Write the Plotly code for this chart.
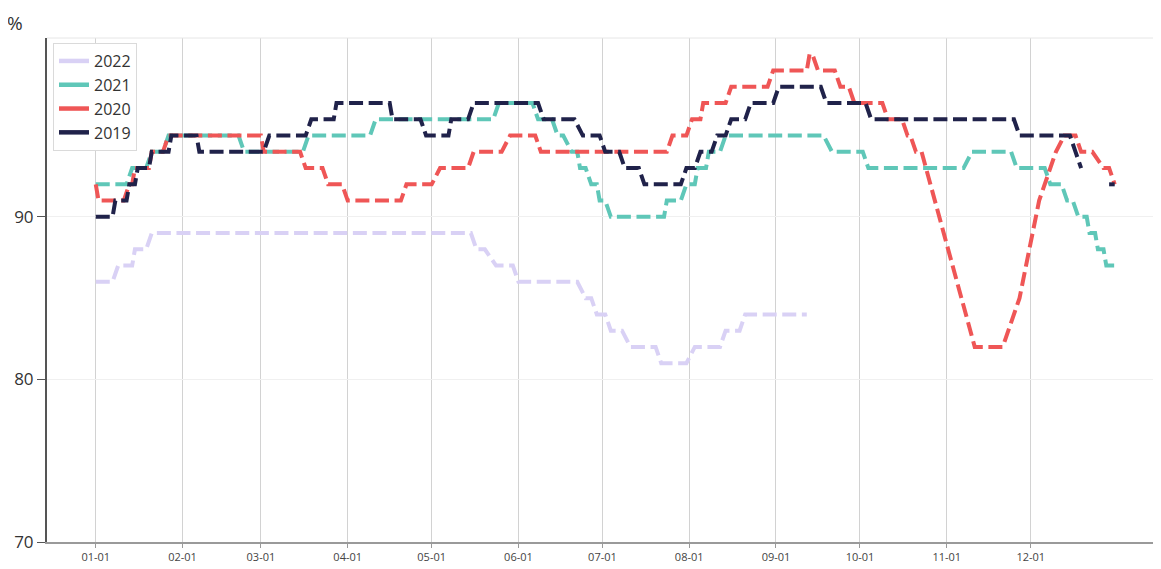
import plotly.graph_objects as go
import pandas as pd

# ---------------- data (MM-DD vertices; None = gap) -------------
YEAR = "2021"  # common dummy year so all series share the same month-day axis

dates_2022 = ["01-01", "01-07", "01-09", "01-14", "01-15", "01-19", "01-21", "05-15",
              "05-17", "05-20", "05-24", "05-30", "06-01", "06-22", "06-25", "06-27",
              "06-29", "07-02", "07-04", "07-08", "07-11", "07-20", "07-22", "07-31",
              "08-03", "08-12", "08-14", "08-19", "08-21", "09-12"]
vals_2022 = [86, 86, 87, 87, 88, 88, 89, 89,
             88, 88, 87, 87, 86, 86, 85, 85,
             84, 84, 83, 83, 82, 82, 81, 81,
             82, 82, 83, 83, 84, 84]

dates_2021 = ["01-01", "01-12", "01-14", "01-19", "01-21", "01-25", "01-27", "02-21",
              "02-23", "03-16", "03-18", "04-09", "04-11", "05-23", "05-25", "06-06",
              "06-08", "06-13", "06-15", "06-17", "06-20", "06-22", "06-23", "06-25",
              "06-27", "06-29", "06-30", "07-02", "07-04", "07-23", "07-24", "07-29",
              "07-31", "08-03", "08-04", "08-07", "08-08", "08-12", "08-14", "09-18",
              "09-21", "10-02", "10-04", "11-07", "11-10", "11-24", "11-26", "12-06",
              "12-08", "12-12", "12-14", "12-16", "12-18", "12-21", "12-22", "12-24",
              "12-25", "12-27", "12-28", "12-31"]
vals_2021 = [92, 92, 93, 93, 94, 94, 95, 95,
             94, 94, 95, 95, 96, 96, 97, 97,
             96, 96, 95, 95, 94, 94, 93, 93,
             92, 92, 91, 91, 90, 90, 91, 91,
             92, 92, 93, 93, 94, 94, 95, 95,
             94, 94, 93, 93, 94, 94, 93, 93,
             92, 92, 91, 91, 90, 90, 89, 89,
             88, 88, 87, 87]

dates_2020 = ["01-01", "01-02", "01-11", "01-13", "01-14", "01-15", "01-20", "01-21",
              "01-25", "01-27", "03-01", "03-02", "03-15", "03-17", "03-23", "03-25",
              "03-30", "04-01", "04-20", "04-22", "05-01", "05-04", "05-14", "05-16",
              "05-26", "05-29", "06-07", "06-09", "07-24", "07-26", "07-31", "08-02",
              "08-05", "08-06", "08-14", "08-16", "08-29", "08-31", "09-12", "09-13",
              "09-14", "09-16", "09-22", "09-24", "09-27", "09-29", "10-09", "10-11",
              "10-16", "10-18", "10-19", "10-21", "10-23", "11-11", "11-21", "11-27",
              "12-04", "12-10", "12-13", "12-17", "12-19", "12-23", "12-27", "12-29",
              "12-31"]
vals_2020 = [92, 91, 91, 92, 92, 93, 93, 94,
             94, 95, 95, 94, 94, 93, 93, 92,
             92, 91, 91, 92, 92, 93, 93, 94,
             94, 95, 95, 94, 94, 95, 95, 96,
             96, 97, 97, 98, 98, 99, 99, 100,
             100, 99, 99, 98, 98, 97, 97, 96,
             96, 95, 95, 94, 94, 82, 82, 85,
             91, 94, 95, 95, 94, 94, 93, 93,
             92]

dates_2019 = ["01-01", "01-07", "01-08", "01-12", "01-13", "01-15", "01-16", "01-20",
              "01-21", "01-27", "01-28", "02-06", "02-07", "03-02", "03-04", "03-17",
              "03-19", "03-27", "03-28", "04-16", "04-17", "04-27", "04-29", "05-07",
              "05-08", "05-14", "05-16", "06-08", "06-10", "06-21", "06-24", "06-30",
              "07-02", "07-07", "07-09", "07-14", "07-16", "07-29", "07-31", "08-03",
              "08-05", "08-09", "08-11", "08-14", "08-16", "08-21", "08-23", "08-31",
              "09-02", "09-17", "09-19", "10-03", "10-05", "11-25", "11-27", "12-15",
              "12-17", "12-19", "12-24", "12-29", "12-31"]
vals_2019 = [90, 90, 91, 91, 92, 92, 93, 93,
             94, 94, 95, 95, 94, 94, 95, 95,
             96, 96, 97, 97, 96, 96, 95, 95,
             96, 96, 97, 97, 96, 96, 95, 95,
             94, 94, 93, 93, 92, 92, 93, 93,
             94, 94, 95, 95, 96, 96, 97, 97,
             98, 98, 97, 97, 96, 96, 95, 95,
             94, 93, None, 92, 92]

series_names = ["2022", "2021", "2020", "2019"]
series_dates = [dates_2022, dates_2021, dates_2020, dates_2019]
series_vals = [vals_2022, vals_2021, vals_2020, vals_2019]
series_colors = ["#d9d1f5", "#5fc7b8", "#ef5656", "#20224a"]

tick_labels = ["01-01", "02-01", "03-01", "04-01", "05-01", "06-01",
               "07-01", "08-01", "09-01", "10-01", "11-01", "12-01"]
y_ticks = [70, 80, 90]


def to_x(ds):
    return [pd.Timestamp(f"{YEAR}-{d}") for d in ds]


# ---------------- figure ----------------
fig = go.Figure()

DASH = "14px,5.6px"
for name, ds, vs, col in zip(series_names, series_dates, series_vals, series_colors):
    fig.add_trace(go.Scatter(
        x=to_x(ds), y=vs, mode="lines", name=name, showlegend=False,
        line=dict(color=col, width=4, dash=DASH),
        connectgaps=False, hoverinfo="skip",
    ))

# legend entries drawn with solid samples, like the reference legend
for name, col in zip(series_names, series_colors):
    fig.add_trace(go.Scatter(
        x=[None], y=[None], mode="lines", name=name,
        line=dict(color=col, width=4.5),
    ))

FONT = "'Open Sans', Lato, sans-serif"

fig.update_layout(
    width=1153, height=561,
    margin=dict(l=39, r=5, t=30, b=23),
    paper_bgcolor="white", plot_bgcolor="white",
    font=dict(family=FONT, color="#333"),
    showlegend=True,
    legend=dict(
        x=0.0054, y=0.99, xanchor="left", yanchor="top",
        bgcolor="white", bordercolor="#dadada", borderwidth=1,
        font=dict(size=16, color="#333", family=FONT),
        traceorder="normal", tracegroupgap=0,
        entrywidth=90, entrywidthmode="pixels",
    ),
    xaxis=dict(
        type="date",
        range=["2020-12-14 14:00", "2022-01-14 18:00"],
        tickmode="array",
        tickvals=to_x(tick_labels),
        ticktext=tick_labels,
        showgrid=True, gridcolor="#d2d2d2", gridwidth=1,
        showline=True, linecolor="#9a9a9a", linewidth=2,
        ticks="outside", ticklen=4, tickcolor="#9a9a9a",
        tickfont=dict(size=11, color="#444", family=FONT),
        zeroline=False,
    ),
    yaxis=dict(
        range=[70, 101],
        tickmode="array", tickvals=y_ticks,
        showgrid=True, gridcolor="#f0f0f0", gridwidth=1,
        showline=True, linecolor="#555", linewidth=2,
        ticks="outside", ticklen=8, tickcolor="#555",
        tickfont=dict(size=17, color="#333", family=FONT),
        zeroline=False,
    ),
    shapes=[dict(type="line", xref="paper", yref="paper", x0=0, x1=1, y0=1, y1=1,
                 line=dict(color="#e6e6e6", width=1))],
    annotations=[dict(text="%", xref="paper", yref="paper",
                      x=-0.029, y=1.03, xanchor="center", yanchor="middle",
                      showarrow=False, font=dict(size=19, color="#333", family=FONT))],
)

fig.write_html("out.html")
